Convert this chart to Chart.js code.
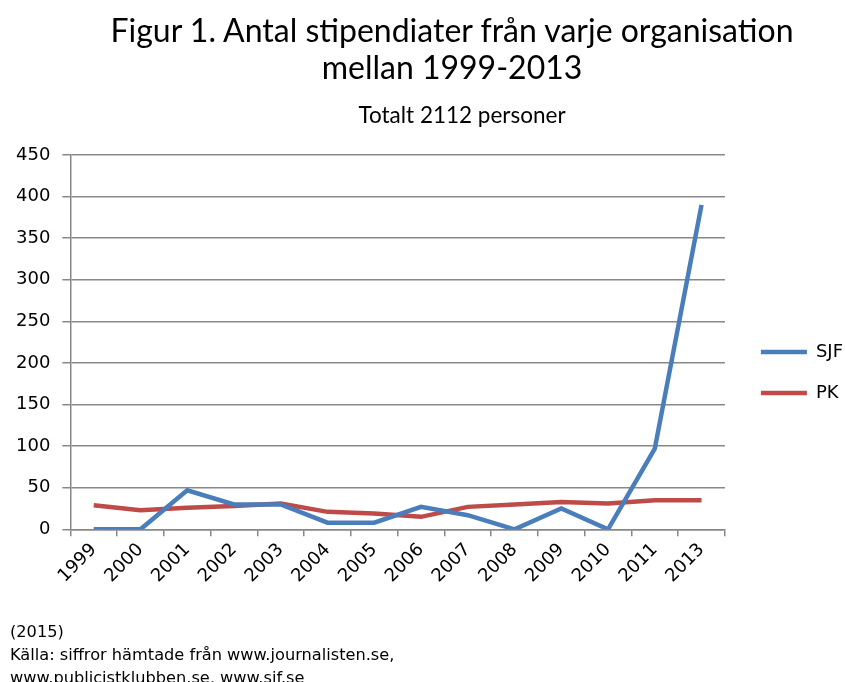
<!DOCTYPE html>
<html>
<head>
<meta charset="utf-8">
<script src="https://cdn.jsdelivr.net/npm/chart.js@4/dist/chart.umd.min.js"></script>
<style>
    body { margin: 0; background: #fff; }
    #wrap { position: relative; width: 845px; height: 682px; overflow: hidden; }
    canvas { position: absolute; left: 0; top: 0; }
    .title { position: absolute; text-align: center; font-family: Lato, sans-serif; color: #000; white-space: nowrap; }
    #t1 { left: 52px; width: 800px; top: 11px; font-size: 32px; line-height: 37px; }
    #t2 { left: 262px; width: 400px; top: 101px; font-size: 22.5px; }
    #foot { position: absolute; left: 10px; top: 620px; font-family: "DejaVu Sans", sans-serif; font-size: 16.2px; line-height: 23px; color: #000; }
</style>
</head>
<body>
<div id="wrap">
    <canvas id="chart" width="845" height="682"></canvas>
    <div class="title" id="t1">Figur 1. Antal stipendiater från varje organisation<br>mellan 1999-2013</div>
    <div class="title" id="t2">Totalt 2112 personer</div>
    <div id="foot">(2015)<br>Källa: siffror hämtade från www.journalisten.se,<br>www.publicistklubben.se, www.sif.se</div>
</div>
<script>
// years on the x axis (2012 is missing in the source)
const years = ["1999", "2000", "2001", "2002", "2003", "2004", "2005", "2006", "2007", "2008", "2009", "2010", "2011", "2013"];
const sjf = [0, 0, 47, 30, 30, 8, 8, 27, 17, 0, 25, 0, 97, 390];
const pk = [29, 23, 26, 28, 31, 21, 19, 15, 27, 30, 33, 31, 35, 35];

const gridColor = "#888888";

new Chart(document.getElementById("chart"), {
    type: "line",
    data: {
        labels: years,
        datasets: [
            { label: "SJF", data: sjf, borderColor: "#4A7EBB", backgroundColor: "#4A7EBB", borderWidth: 4.5, pointRadius: 0, tension: 0 },
            { label: "PK", data: pk, borderColor: "#BE4B48", backgroundColor: "#BE4B48", borderWidth: 4.5, pointRadius: 0, tension: 0 },
        ],
    },
    options: {
        responsive: false,
        animation: false,
        // negative right padding lets the legend text run off the edge like the original
        layout: { padding: { top: 155, left: 4, right: -8, bottom: 92 } },
        plugins: {
            legend: {
                position: "right",
                labels: {
                    usePointStyle: true,
                    pointStyle: "line",
                    pointStyleWidth: 46,
                    padding: 23,
                    color: "#000",
                    font: { family: "DejaVu Sans", size: 18 },
                },
            },
            tooltip: { enabled: false },
        },
        scales: {
            x: {
                offset: true,
                grid: { drawOnChartArea: false, offset: true, color: gridColor, lineWidth: 1.5, tickLength: 7 },
                border: { color: gridColor, width: 1.5 },
                ticks: { minRotation: 45, maxRotation: 45, color: "#000", font: { family: "DejaVu Sans", size: 18 } },
            },
            y: {
                min: 0,
                max: 450,
                grid: { color: gridColor, lineWidth: 1.5, tickLength: 8 },
                border: { color: gridColor, width: 1.5 },
                ticks: { stepSize: 50, padding: 12, color: "#000", font: { family: "DejaVu Sans", size: 18 } },
            },
            // empty spacer between plot and legend
            gap: {
                type: "linear",
                position: "right",
                grid: { display: false },
                border: { display: false },
                ticks: { display: false },
                afterFit: (scale) => { scale.width = 13; },
            },
        },
    },
});
</script>
</body>
</html>
